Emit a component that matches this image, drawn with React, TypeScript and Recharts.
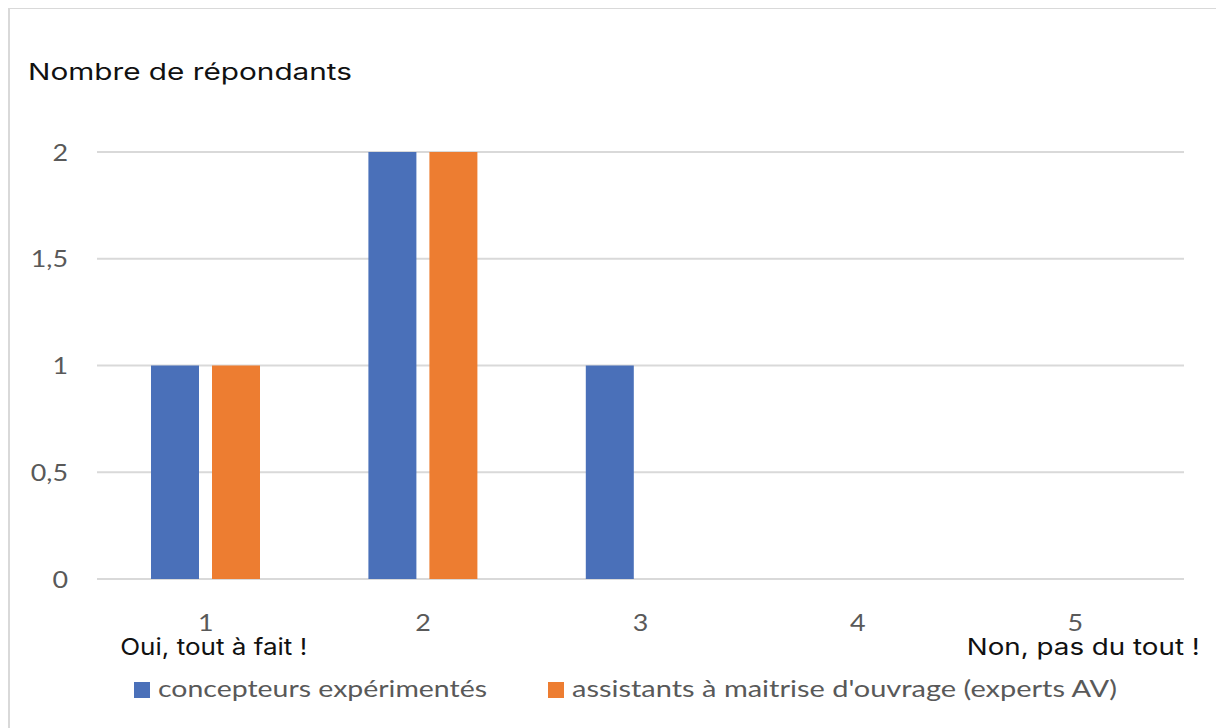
import React from 'react';
import { BarChart, Bar, XAxis, YAxis, CartesianGrid, Legend } from 'recharts';

const categories = ['1', '2', '3', '4', '5'];
const concepteurs = [1, 2, 1, 0, 0];
const assistants = [1, 2, 0, 0, 0];
const yTicks = [0, 0.5, 1, 1.5, 2];
const seriesNames = ['concepteurs expérimentés', "assistants à maitrise d'ouvrage (experts AV)"];
const seriesColors = ['#4A70B9', '#ED7D31'];
const scaleLabels: Record<string, string> = { '1': 'Oui, tout à fait !', '5': 'Non, pas du tout !' };
const scaleLabelWidths: Record<string, number> = { '1': 187, '5': 233 };
const title = 'Nombre de répondants';

const data = categories.map((c, i) => ({ cat: c, a: concepteurs[i], b: assistants[i] }));

const TICK_FONT = 'Lato, "Open Sans", sans-serif';
const TEXT_FONT = 'Inter, "Noto Sans", sans-serif';

const XTick = (props: any) => {
  const { x, y, payload } = props;
  const extra = scaleLabels[payload.value];
  return (
    <g>
      <text x={x} y={y} dy="0.71em" textAnchor="middle" fill="#595959" fontSize={24} fontFamily={TICK_FONT} transform={`translate(${x} 0) scale(1.12 1) translate(${-x} 0)`}>
        {payload.value}
      </text>
      {extra && (
        <text
          x={x + 8}
          y={y + 41}
          textAnchor="middle"
          fill="#111"
          fontSize={23}
          fontFamily={TEXT_FONT}
          textLength={scaleLabelWidths[payload.value]}
          lengthAdjust="spacingAndGlyphs"
        >
          {extra}
        </text>
      )}
    </g>
  );
};

const YTick = (props: any) => {
  const { x, y, payload } = props;
  const label = String(payload.value).replace('.', ',');
  return (
    <text x={x} y={y} dy="0.355em" textAnchor="end" fill="#595959" fontSize={24} fontFamily={TICK_FONT} transform={`translate(${x} 0) scale(1.12 1) translate(${-x} 0)`}>
      {label}
    </text>
  );
};

const legendTextWidths = [329, 545];
const legendItemX = [0, 414];

const LegendContent = () => (
  <svg width={1000} height={30} style={{ display: 'block' }}>
    {seriesNames.map((n, i) => (
      <g key={n}>
        <rect x={legendItemX[i]} y={7} width={16} height={16} fill={seriesColors[i]} />
        <text
          x={legendItemX[i] + 24}
          y={22}
          fill="#595959"
          fontSize={23}
          fontFamily={TICK_FONT}
          textLength={legendTextWidths[i]}
          lengthAdjust="spacingAndGlyphs"
        >
          {n}
        </text>
      </g>
    ))}
  </svg>
);

export default function App() {
  return (
    <div style={{ position: 'relative', width: 1212, height: 720 }}>
      <BarChart
        width={1212}
        height={720}
        data={data}
        margin={{ top: 144, right: 36, left: 0, bottom: 119 }}
        barSize={48}
        barGap={13}
      >
        <CartesianGrid horizontal vertical={false} stroke="#d9d9d9" strokeWidth={2} />
        <XAxis dataKey="cat" axisLine={false} tickLine={false} tickSize={0} tickMargin={35} height={30} tick={<XTick />} interval={0} />
        <YAxis
          width={89}
          domain={[0, 2]}
          ticks={yTicks}
          axisLine={false}
          tickLine={false}
          tickSize={0}
          tickMargin={29}
          tick={<YTick />}
        />
        <Bar dataKey="a" name={seriesNames[0]} fill={seriesColors[0]} isAnimationActive={false} />
        <Bar dataKey="b" name={seriesNames[1]} fill={seriesColors[1]} isAnimationActive={false} />
        <Legend
          layout="horizontal"
          verticalAlign="middle"
          align="center"
          content={<LegendContent />}
          wrapperStyle={{ position: 'absolute', top: 667, left: 126, width: 'auto' }}
        />
      </BarChart>
      <svg style={{ position: 'absolute', left: 0, top: 40, overflow: 'visible' }} width={400} height={50}>
        <text x={20} y={32} fill="#111" fontSize={23} fontFamily={TEXT_FONT} textLength={324} lengthAdjust="spacingAndGlyphs">
          {title}
        </text>
      </svg>
      <div style={{ position: 'absolute', left: 0, top: -1, width: 1214, height: 730, border: '2px solid #d9d9d9', boxSizing: 'border-box', pointerEvents: 'none' }} />
    </div>
  );
}
